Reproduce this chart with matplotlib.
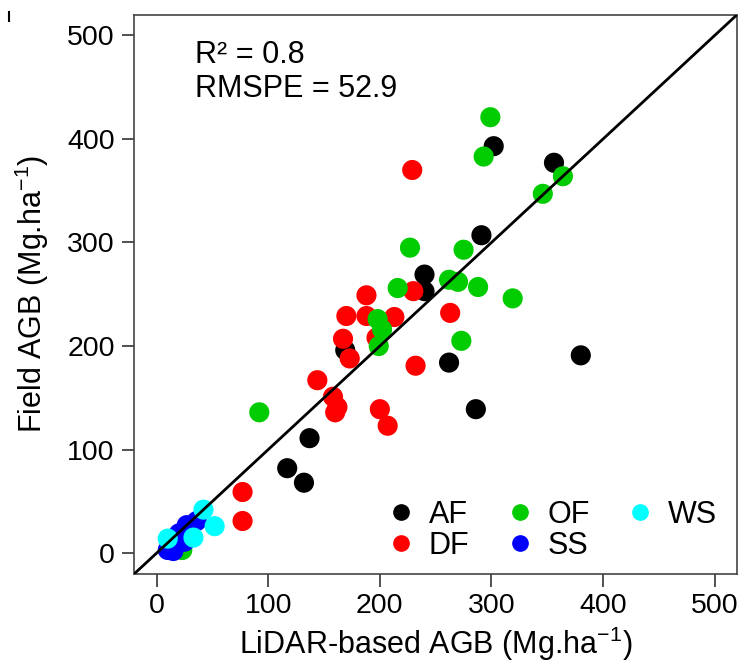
import numpy as np
import matplotlib
matplotlib.use("Agg")
import matplotlib.pyplot as plt
from matplotlib.lines import Line2D

plt.rcParams['font.family'] = ['Liberation Sans', 'DejaVu Sans']
plt.rcParams['mathtext.fontset'] = 'custom'
plt.rcParams['mathtext.rm'] = 'Liberation Sans'
plt.rcParams['mathtext.it'] = 'Liberation Sans'

# LiDAR-based AGB (x) vs field AGB (y), by forest type
af_x = [302, 356, 291, 240, 240, 262, 380, 286, 169, 137, 117, 132]
af_y = [393, 377, 307, 269, 253, 184, 191, 139, 196, 111, 82, 68]

df_x = [229, 230, 188, 170, 188, 213, 167, 197, 173, 232, 263, 144, 158, 162, 160, 200, 207, 77, 77]
df_y = [370, 253, 249, 229, 229, 228, 207, 208, 188, 181, 232, 167, 151, 141, 136, 139, 123, 59, 31]

of_x = [299, 293, 364, 346, 227, 275, 216, 262, 270, 288, 319, 273, 198, 202, 199, 92, 23]
of_y = [421, 383, 364, 347, 295, 293, 256, 264, 262, 257, 246, 205, 226, 216, 200, 136, 3]

ss_x = [36, 27, 20, 16, 10, 15, 25, 14]
ss_y = [31, 27, 19, 14, 3, 2, 11, 8]

ws_x = [42, 52, 33, 10]
ws_y = [42, 26, 15, 14]

groups = ['AF', 'DF', 'OF', 'SS', 'WS']
colors = ['#000000', '#ff0000', '#00cc00', '#0000ff', '#00ffff']
xs = [af_x, df_x, of_x, ss_x, ws_x]
ys = [af_y, df_y, of_y, ss_y, ws_y]

r2_text = 'R² = 0.8'
rmspe_text = 'RMSPE = 52.9'

fig = plt.figure(figsize=(7.46, 6.68), dpi=100)
ax = fig.add_axes([0.180, 0.141, 0.808, 0.837])

handles = []
for name, c, x, y in zip(groups, colors, xs, ys):
    ax.scatter(x, y, s=210, color=c, edgecolors='none', zorder=3)
    handles.append(Line2D([], [], marker='o', linestyle='none', color=c,
                          markersize=11, label=name))

ax.axline((0, 0), slope=1, color='black', lw=2.0, zorder=4)

ax.set_xlim(-20, 520)
ax.set_ylim(-20, 520)
ax.set_xticks([0, 100, 200, 300, 400, 500])
ax.set_yticks([0, 100, 200, 300, 400, 500])
ax.tick_params(direction='out', length=9, width=1.2, labelsize=20.5, pad=5, colors='#333333',
               labelcolor='black')
for sp in ax.spines.values():
    sp.set_color('#444444')
    sp.set_linewidth(1.2)

ax.set_xlabel('LiDAR-based AGB (Mg.ha$^{-1}$)', fontsize=22, labelpad=4)
ax.set_ylabel('Field AGB (Mg.ha$^{-1}$)', fontsize=22, labelpad=12)

ax.text(0.10, 0.928, r2_text, transform=ax.transAxes, fontsize=22, va='center')
ax.text(0.10, 0.867, rmspe_text, transform=ax.transAxes, fontsize=22, va='center')

ax.legend(handles=handles, ncol=3, frameon=False, fontsize=22, loc='upper left',
          bbox_to_anchor=(0.40, 0.160), borderpad=0, handletextpad=0.55,
          columnspacing=1.3, labelspacing=0.05, handlelength=0.7)

fig.add_artist(Line2D([0.012, 0.012], [0.968, 0.982], color='black', lw=1.5))

fig.savefig('out.png', dpi=100)
